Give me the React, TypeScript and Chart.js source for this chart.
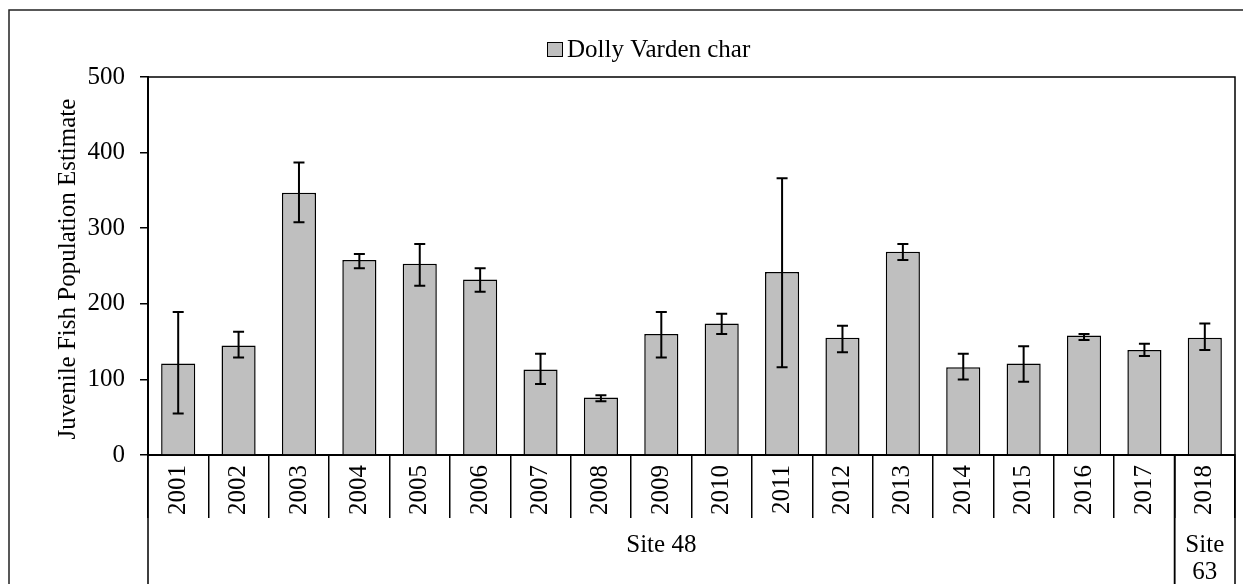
import React, { useEffect, useRef } from "react";
import { Chart, registerables } from "chart.js";

Chart.register(...registerables);

const categories = ["2001", "2002", "2003", "2004", "2005", "2006", "2007", "2008", "2009", "2010", "2011", "2012", "2013", "2014", "2015", "2016", "2017", "2018"];
const estimates = [121, 145, 347, 258, 253, 232, 113, 76, 160, 174, 242, 155, 269, 116, 121, 158, 139, 155];
const errorUpper = [189, 163, 387, 266, 279, 247, 134, 79, 189, 187, 366, 171, 279, 134, 144, 160, 147, 174];
const errorLower = [55, 129, 308, 247, 224, 216, 94, 71, 129, 160, 116, 136, 258, 100, 97, 152, 131, 139];
const yTicks = [0, 100, 200, 300, 400, 500];
const seriesName = "Dolly Varden char";
const yTitle = "Juvenile Fish Population Estimate";
const siteLabels = [["Site 48"], ["Site", "63"]];
const siteStart = [0, 17];
const siteEnd = [16, 17];

const FONT = "'Liberation Serif', 'Times New Roman', serif";
const FS = 25;
const BAR_FILL = "#BFBFBF";

const extrasPlugin = {
  id: "extras",
  afterDatasetsDraw(chart: any) {
    const ctx = chart.ctx;
    const x = chart.scales.x;
    const y = chart.scales.y;
    ctx.save();
    ctx.strokeStyle = "#000";
    ctx.lineWidth = 2;
    const cap = 5.5;
    for (let i = 0; i < estimates.length; i++) {
      const px = x.getPixelForValue(i);
      const yt = y.getPixelForValue(errorUpper[i]);
      const yb = y.getPixelForValue(errorLower[i]);
      ctx.beginPath();
      ctx.moveTo(px, yt);
      ctx.lineTo(px, yb);
      ctx.moveTo(px - cap, yt);
      ctx.lineTo(px + cap, yt);
      ctx.moveTo(px - cap, yb);
      ctx.lineTo(px + cap, yb);
      ctx.stroke();
    }
    ctx.restore();
  },
  afterDraw(chart: any) {
    const ctx = chart.ctx;
    const area = chart.chartArea;
    const x = chart.scales.x;
    const H = chart.height;
    ctx.save();
    // outer frame
    ctx.strokeStyle = "#222";
    ctx.lineWidth = 1.5;
    ctx.strokeRect(9, 10, 1400, 800);
    // plot area top/right border
    ctx.strokeStyle = "#000";
    ctx.lineWidth = 1.5;
    ctx.beginPath();
    ctx.moveTo(area.left, area.top);
    ctx.lineTo(area.right, area.top);
    ctx.lineTo(area.right, area.bottom);
    ctx.stroke();
    // group separators and labels
    const half = (x.getPixelForValue(1) - x.getPixelForValue(0)) / 2;
    ctx.lineWidth = 1.5;
    ctx.fillStyle = "#000";
    ctx.font = `${FS}px ${FONT}`;
    ctx.textAlign = "center";
    ctx.textBaseline = "middle";
    for (let g = 0; g < siteLabels.length; g++) {
      const l = x.getPixelForValue(siteStart[g]) - half;
      const r = x.getPixelForValue(siteEnd[g]) + half;
      ctx.beginPath();
      ctx.moveTo(l, area.bottom);
      ctx.lineTo(l, H);
      ctx.moveTo(r, area.bottom);
      ctx.lineTo(r, H);
      ctx.stroke();
      const cx = (l + r) / 2;
      siteLabels[g].forEach((t, k) => {
        ctx.fillText(t, cx, 545 + k * 27);
      });
    }
    // legend
    ctx.fillStyle = BAR_FILL;
    ctx.fillRect(547, 42, 16, 15);
    ctx.strokeStyle = "#000";
    ctx.lineWidth = 1;
    ctx.strokeRect(547.5, 42.5, 15, 14);
    ctx.fillStyle = "#000";
    ctx.textAlign = "left";
    ctx.textBaseline = "middle";
    ctx.fillText(seriesName, 567, 50);
    ctx.restore();
  },
};

export default function App() {
  const ref = useRef<HTMLCanvasElement>(null);
  useEffect(() => {
    if (!ref.current) return;
    const chart = new Chart(ref.current, {
      type: "bar",
      data: {
        labels: categories,
        datasets: [
          {
            label: seriesName,
            data: estimates,
            backgroundColor: BAR_FILL,
            borderColor: "#000",
            borderWidth: 1.5,
            barPercentage: 0.565,
            categoryPercentage: 1,
          },
        ],
      },
      options: {
        animation: false,
        responsive: false,
        devicePixelRatio: 1,
        layout: { padding: { left: 9, top: 77, right: 8, bottom: 0 } },
        plugins: { legend: { display: false }, tooltip: { enabled: false } },
        scales: {
          x: {
            type: "category",
            afterFit(scale: any) {
              scale.height = 129;
            },
            grid: {
              offset: true,
              drawOnChartArea: false,
              drawTicks: true,
              tickLength: 63,
              color: "#000",
              lineWidth: 1.5,
            },
            border: { display: true, color: "#000", width: 2 },
            ticks: {
              autoSkip: false,
              minRotation: 90,
              maxRotation: 90,
              padding: -53,
              color: "#000",
              font: { family: FONT, size: FS },
            },
          },
          y: {
            min: 0,
            max: 500,
            afterFit(scale: any) {
              scale.width = 139;
            },
            afterBuildTicks(scale: any) {
              scale.ticks = yTicks.map((v) => ({ value: v }));
            },
            grid: {
              drawOnChartArea: false,
              drawTicks: true,
              tickLength: 8,
              color: "#000",
              lineWidth: 1.5,
            },
            border: { display: true, color: "#000", width: 2 },
            ticks: {
              padding: 15,
              color: "#000",
              font: { family: FONT, size: FS },
            },
            title: {
              display: true,
              text: yTitle + "\u00a0",
              color: "#000",
              font: { family: FONT, size: FS },
              padding: { top: 44, bottom: 0 },
            },
          },
        },
      },
      plugins: [extrasPlugin],
    });
    return () => chart.destroy();
  }, []);
  return (
    <div style={{ position: "absolute", left: 0, top: 0, width: 1243, height: 584, background: "#fff" }}>
      <canvas ref={ref} width={1243} height={584} style={{ width: 1243, height: 584, display: "block" }} />
    </div>
  );
}
